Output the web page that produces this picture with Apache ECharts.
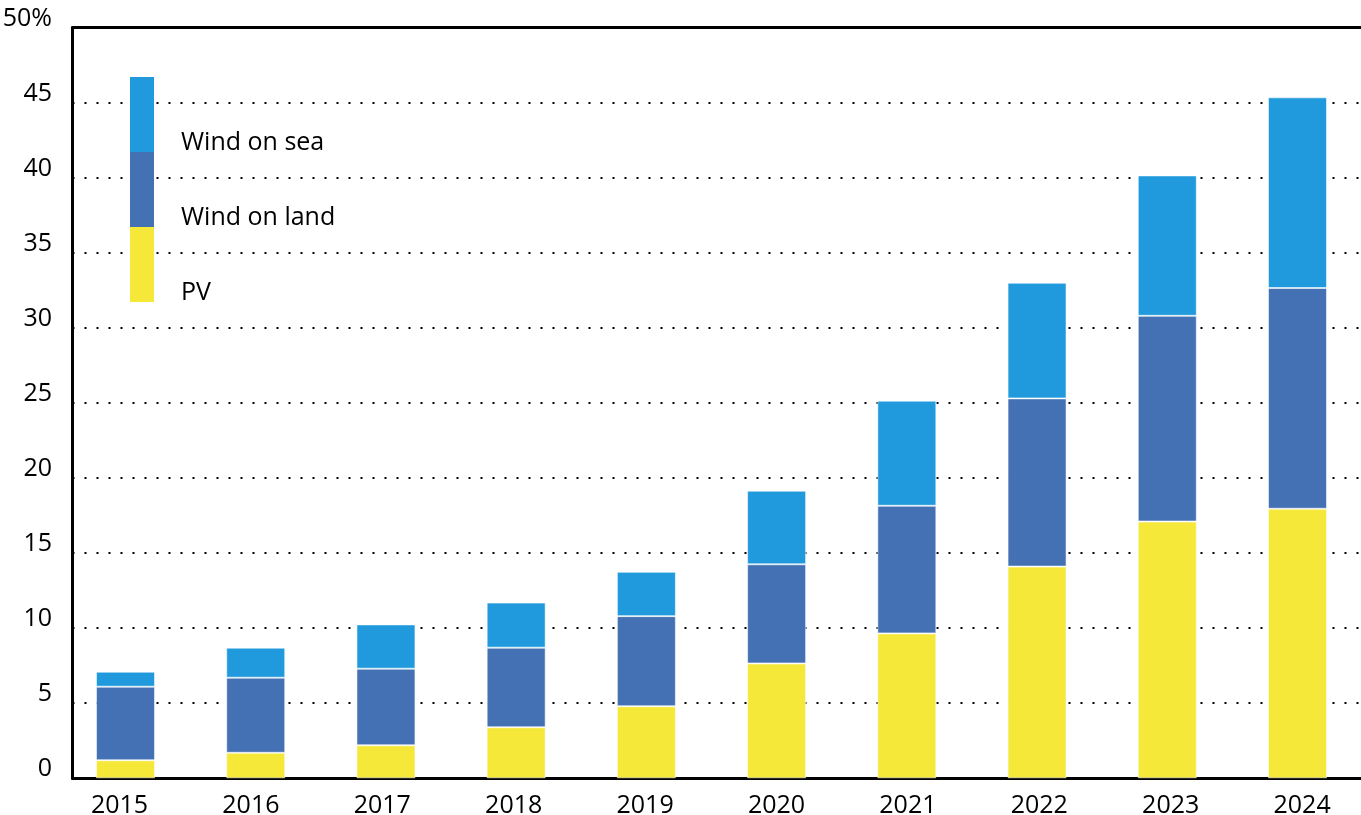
<!DOCTYPE html>
<html><head><meta charset="utf-8">
<script src="https://cdn.jsdelivr.net/npm/echarts@6/dist/echarts.min.js"></script>
<style>html,body{margin:0;padding:0;background:#fff}#c{width:1361px;height:815px}</style>
</head><body><div id="c"></div>
<script>
const years = ['2015','2016','2017','2018','2019','2020','2021','2022','2023','2024'];
const pv = [1.2, 1.7, 2.2, 3.4, 4.8, 7.65, 9.65, 14.1, 17.1, 17.95];
const windLand = [4.9, 5.0, 5.1, 5.3, 6.0, 6.6, 8.5, 11.2, 13.7, 14.7];
const windSea = [1.0, 2.0, 2.95, 3.0, 2.95, 4.9, 7.0, 7.7, 9.35, 12.7];
const legendOrder = ['Wind on sea','Wind on land','PV'];
const yMin = 0, yMax = 50, yStep = 5;

const FONT = 'Open Sans';
const chart = echarts.init(document.getElementById('c'), null, {renderer:'canvas'});
const bar = (name, data, color) => ({
  name, type:'bar', stack:'total', xAxisIndex:1, yAxisIndex:1, data, barWidth:59,
  itemStyle:{color, borderColor:'rgba(255,255,255,0.55)', borderWidth:1},
  emphasis:{disabled:true}
});
const hiddenY = (g) => ({gridIndex:g, type:'value', min:yMin, max:yMax, interval:yStep, show:false, splitLine:{show:false}});
const option = {
  animation:false,
  grid:[
    {left:72.5, right:0, top:27.5, bottom:36.7, outerBoundsMode:'none', containLabel:false},
    {left:60.4, right:-1.6, top:27.5, bottom:36.7, outerBoundsMode:'none', containLabel:false},
    {left:53.8, right:-6.8, top:27.5, bottom:36.7, outerBoundsMode:'none', containLabel:false}
  ],
  xAxis:[
    {gridIndex:0, type:'category', data:years, position:'bottom',
     axisLine:{onZero:false, lineStyle:{color:'#000', width:3}}, axisTick:{show:false}, axisLabel:{show:false}, splitLine:{show:false}},
    {gridIndex:1, type:'category', data:years,
     axisLine:{show:false}, axisTick:{show:false}, axisLabel:{show:false}, splitLine:{show:false}},
    {gridIndex:2, type:'category', data:years,
     axisLine:{show:false}, axisTick:{show:false}, splitLine:{show:false},
     axisLabel:{color:'#000', fontFamily:FONT, fontSize:25, margin:15}},
    {gridIndex:0, type:'category', data:years, position:'top',
     axisLine:{onZero:false, lineStyle:{color:'#000', width:3}}, axisTick:{show:false}, axisLabel:{show:false}, splitLine:{show:false}}
  ],
  yAxis:[
    {gridIndex:0, type:'value', min:yMin, max:yMax, interval:yStep,
     axisLine:{show:true, onZero:false, lineStyle:{color:'#000', width:3}}, axisTick:{show:false},
     axisLabel:{color:'#000', fontFamily:FONT, fontSize:25, margin:20.5, verticalAlign:'bottom', lineHeight:18,
       formatter:(v)=> v === yMax ? v + '%' : String(v)},
     splitLine:{show:true, lineStyle:{color:'#000', width:2, type:[2,10]}}},
    hiddenY(1),
    hiddenY(2)
  ],
  legend:{
    orient:'vertical', left:130, top:72.5, padding:0, itemWidth:24, itemHeight:75, itemGap:-9,
    icon:'rect', data:legendOrder, selectedMode:false,
    itemStyle:{borderWidth:0},
    formatter:(name)=> '\n\n' + name,
    textStyle:{fontFamily:FONT, fontSize:25, color:'#000', lineHeight:28, padding:[0,0,0,22]}
  },
  series:[
    bar('PV', pv, '#F5E838'),
    bar('Wind on land', windLand, '#4471B4'),
    bar('Wind on sea', windSea, '#209ADC')
  ]
};
chart.setOption(option);
</script></body></html>
